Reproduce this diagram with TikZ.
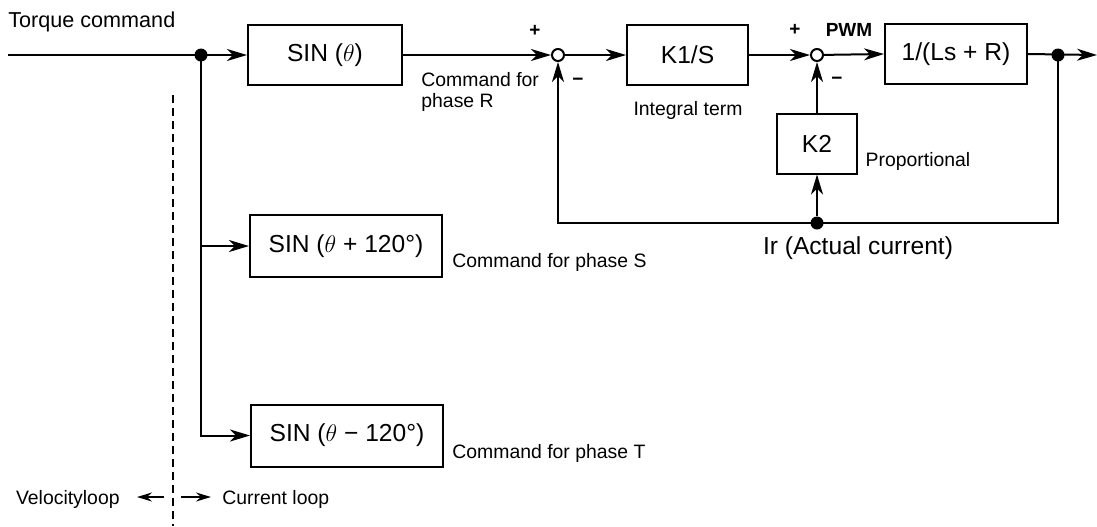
\documentclass[tikz,border=0pt]{standalone}
\usepackage{fontspec}
\setmainfont{Liberation Sans}
\usetikzlibrary{arrows.meta}

\tikzset{
  blk/.style={draw, line width=1pt, minimum height=30pt, inner sep=0pt, font=\fontsize{12.3}{14}\selectfont},
  lbl/.style={inner sep=0pt, font=\fontsize{9.7}{10.5}\selectfont},
  sgn/.style={inner sep=0pt, font=\bfseries\fontsize{9.5}{10}\selectfont},
  sumpt/.style={circle, draw, line width=1pt, inner sep=0pt, minimum size=6pt},
  jdot/.style={circle, fill, inner sep=0pt, minimum size=6.5pt},
  sig/.style={line width=1pt, -{Stealth[length=10pt,width=6pt,inset=3pt]}},
  thin sig/.style={line width=0.8pt, -{Stealth[length=7.5pt,width=4.5pt,inset=2.5pt]}}
}

\begin{document}
\begin{tikzpicture}[x=0.5pt,y=-0.5pt]
\useasboundingbox (0,0) rectangle (1097,526);
% blocks
\node[blk, minimum width=77pt] (sinR) at (325,55) {SIN ($\theta$)};
\node[blk, minimum width=96pt, minimum height=31pt] (sinS) at (346,246) {SIN ($\theta$ + 120°)};
\node[blk, minimum width=96pt, minimum height=31pt] (sinT) at (347,435.5) {SIN ($\theta$ − 120°)};
\node[blk, minimum width=60.5pt] (k1) at (687.5,55) {K1/S};
\node[blk, minimum width=71pt] (plant) at (956,54) {1/(Ls + R)};
\node[blk, minimum width=40pt] (k2) at (817,143.5) {K2};
\node[sumpt] (s1) at (558,55) {}; \node[sumpt] (s2) at (817,55) {};
\node[jdot] (jd) at (201,55) {}; \node[jdot] (od) at (1058,55) {}; \node[jdot] (fd) at (817,223) {};
\coordinate (tin) at (8,55); \coordinate (tout) at (1097,55);
% forward path
\draw[sig] (tin) -- (sinR.west);
\draw[sig] (sinR.east) -- (s1); \draw[sig] (s1) -- (k1.west);
\draw[sig] (k1.east) -- (s2); \draw[sig] (s2) -- (plant.west);
\draw[sig] (plant.east) -- (tout);
% feedback
\draw[sig] (od.center) -- (od.center |- fd) -- (s1 |- fd) -- (s1);
\draw[sig] (fd) -- (k2.south); \draw[sig] (k2.north) -- (s2);
% phase branches
\draw[sig] (jd.center) |- (sinT.west);
\draw[sig] (jd |- sinS.west) -- (sinS.west);
% loop boundary
\coordinate (dtop) at (173,95); \coordinate (dbot) at (173,526);
\draw[line width=0.9pt, dash pattern=on 4pt off 2.5pt] (dtop) -- (dbot);
\coordinate (vtail) at (164,497); \coordinate (vtip) at (137,497);
\coordinate (ctail) at (181,497); \coordinate (ctip) at (211,497);
\draw[thin sig] (vtail) -- (vtip); \draw[thin sig] (ctail) -- (ctip);
% labels
\node[lbl, anchor=base west, font=\fontsize{10.8}{12}\selectfont] (tq) at (8,27) {Torque command};
\node[lbl, anchor=north west, align=left] (cmdR) at (421,72) {Command for\\phase R};
\node[lbl, anchor=west] (cmdS) at (452,262) {Command for phase S};
\node[lbl, anchor=west] (cmdT) at (452,453) {Command for phase T};
\node[lbl] (intg) at (688,110) {Integral term};
\node[lbl] (prop) at (918,161) {Proportional};
\node[lbl, font=\fontsize{12.3}{14}\selectfont] (ir) at (858,248) {Ir (Actual current)};
\node[lbl, anchor=east] (vel) at (120,499) {Velocityloop};
\node[lbl, anchor=west] (cur) at (222,499) {Current loop};
\node[sgn] (p1) at (535,31) {+}; \node[sgn] (m1) at (578,82) {−};
\node[sgn] (p2) at (795,30) {+}; \node[sgn] (m2) at (837,81) {−};
\node[sgn] (pwm) at (849,30) {PWM};
\end{tikzpicture}
\end{document}
